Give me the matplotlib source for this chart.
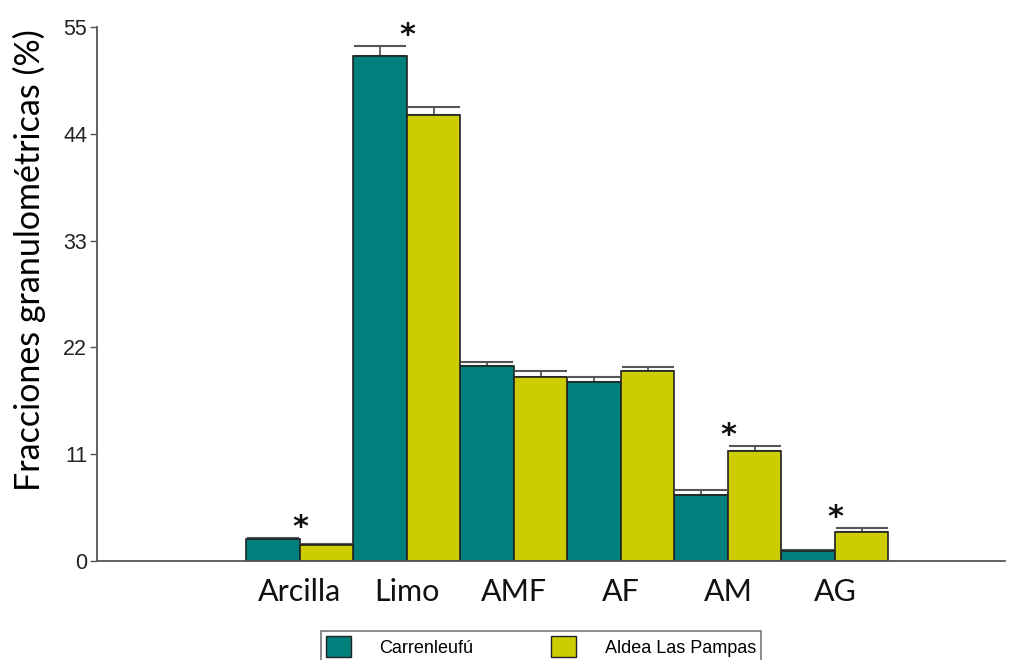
import numpy as np
import matplotlib.pyplot as plt
from matplotlib.patches import Patch

categories = ["Arcilla", "Limo", "AMF", "AF", "AM", "AG"]
carrenleufu = [2.3, 52.0, 20.1, 18.4, 6.8, 1.0]
carrenleufu_err = [0.1, 1.0, 0.4, 0.5, 0.5, 0.1]
aldea = [1.65, 45.9, 18.9, 19.6, 11.3, 3.0]
aldea_err = [0.1, 0.9, 0.7, 0.4, 0.5, 0.4]
significant = [True, True, False, False, True, True]
yticks = [0, 11, 22, 33, 44, 55]

teal = "#00807D"
yellow = "#CCCC00"
axis_gray = "#555555"

fig = plt.figure(figsize=(10.26, 6.60), dpi=100)
ax = fig.add_axes([97 / 1026, 1 - 561 / 660, (1005 - 97) / 1026, (561 - 27) / 660])

x = np.arange(len(categories))
w = 0.5
c_top = np.array(carrenleufu) + np.array(carrenleufu_err)
a_top = np.array(aldea) + np.array(aldea_err)

ax.bar(x - w / 2, carrenleufu, w, color=teal, edgecolor="#222222", linewidth=1.2, zorder=2)
ax.bar(x + w / 2, aldea, w, color=yellow, edgecolor="#222222", linewidth=1.2, zorder=2)
zeros = np.zeros(len(x))
ax.errorbar(x - w / 2, carrenleufu, yerr=[zeros, carrenleufu_err], fmt="none",
            ecolor=axis_gray, elinewidth=1.3, capsize=19, capthick=1.5, zorder=1)
ax.errorbar(x + w / 2, aldea, yerr=[zeros, aldea_err], fmt="none",
            ecolor=axis_gray, elinewidth=1.3, capsize=19, capthick=1.5, zorder=1)

# asterisks for significant differences
for i, sig in enumerate(significant):
    if sig:
        top = max(c_top[i], a_top[i])
        ax.text(x[i], top + 1.1, "*", ha="center", va="center", fontsize=22,
                fontweight="bold", color="#111111")

ax.set_xlim(-1.897, 6.589)
ax.set_ylim(0, 55)
ax.set_yticks(yticks)
ax.set_yticklabels([str(t) for t in yticks], family="Liberation Sans", fontsize=15.5, color="#222222")
ax.set_xticks(x)
ax.set_xticklabels(categories, family="Lato", fontsize=22, color="#111111")
ax.tick_params(axis="x", length=0, pad=12)
ax.tick_params(axis="y", length=5, width=1, color=axis_gray, pad=2)

for side in ["top", "right"]:
    ax.spines[side].set_visible(False)
for side in ["left", "bottom"]:
    ax.spines[side].set_color(axis_gray)
    ax.spines[side].set_linewidth(1.3)

ax.set_ylabel("Fracciones granulométricas (%)", family="Lato", fontsize=24.5)
ax.yaxis.set_label_coords(-0.056, 0.564)

handles = [Patch(facecolor=teal, edgecolor="#222222", label="Carrenleufú"),
           Patch(facecolor=yellow, edgecolor="#222222", label="Aldea Las Pampas")]
leg = fig.legend(handles=handles, loc="upper center", bbox_to_anchor=(541 / 1026, 1 - 622 / 660),
                 ncol=2, frameon=True, fancybox=False, edgecolor=axis_gray,
                 prop={"family": "Liberation Sans", "size": 13},
                 handlelength=1.35, handleheight=1.4, handletextpad=1.6,
                 columnspacing=4.3, borderpad=0.3)
leg.get_frame().set_linewidth(1.2)

fig.savefig("out.png", dpi=100)
